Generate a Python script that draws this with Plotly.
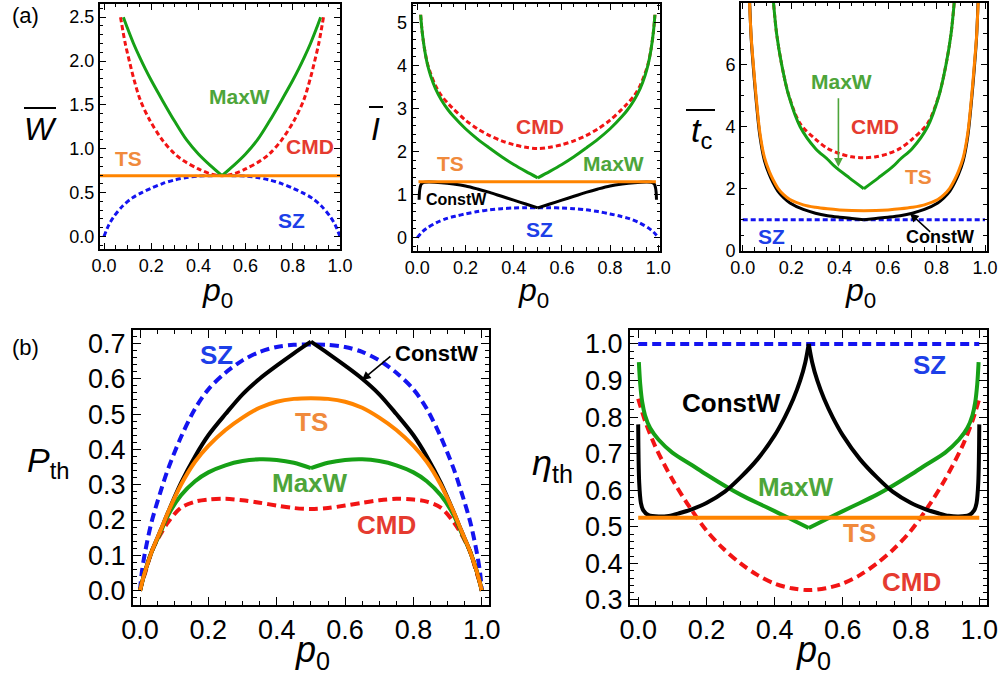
import plotly.graph_objects as go

# ================= DATA =================
# ---- (a) left panel: mean work W ----
sz_w_x = [0, 0.02, 0.04, 0.08, 0.12, 0.16, 0.2, 0.25, 0.3, 0.35, 0.4, 0.45, 0.5,
          0.55, 0.6, 0.65, 0.7, 0.75, 0.8, 0.84, 0.88, 0.92, 0.96, 0.98, 1.0]
sz_w_y = [0, 0.13, 0.22, 0.35, 0.44, 0.50, 0.55, 0.605, 0.645, 0.672, 0.688, 0.693, 0.695,
          0.693, 0.688, 0.672, 0.645, 0.605, 0.55, 0.50, 0.44, 0.35, 0.22, 0.13, 0]
ts_w_x = [-0.03, 1.03]
ts_w_y = [0.693, 0.693]
maxw_w_x = [0.082, 0.1, 0.125, 0.15, 0.175, 0.2, 0.25, 0.3, 0.35, 0.4, 0.45, 0.5,
            0.55, 0.6, 0.65, 0.7, 0.75, 0.8, 0.825, 0.85, 0.875, 0.9, 0.918]
maxw_w_y = [2.50, 2.37, 2.20, 2.05, 1.91, 1.78, 1.54, 1.31, 1.10, 0.94, 0.81, 0.693,
            0.81, 0.94, 1.10, 1.31, 1.54, 1.78, 1.91, 2.05, 2.20, 2.37, 2.50]
cmd_w_x = [0.07, 0.09, 0.11, 0.124, 0.153, 0.195, 0.25, 0.3, 0.336, 0.4, 0.45, 0.5,
           0.55, 0.6, 0.664, 0.7, 0.75, 0.805, 0.847, 0.876, 0.89, 0.91, 0.93]
cmd_w_y = [2.50, 2.20, 1.97, 1.82, 1.56, 1.32, 1.09, 0.94, 0.865, 0.77, 0.715, 0.693,
           0.715, 0.77, 0.865, 0.94, 1.09, 1.32, 1.56, 1.82, 1.97, 2.20, 2.50]

# ---- (a) middle panel: information I ----
sz_i_x = sz_w_x
sz_i_y = sz_w_y
ts_i_x = [0.005, 0.99]
ts_i_y = [1.30, 1.30]
maxw_i_x = [0.014, 0.02, 0.03, 0.042, 0.055, 0.075, 0.1, 0.129, 0.15, 0.2, 0.25, 0.3, 0.35, 0.4, 0.45, 0.5,
            0.55, 0.6, 0.65, 0.7, 0.75, 0.8, 0.85, 0.871, 0.9, 0.925, 0.945, 0.958, 0.97, 0.98, 0.986]
maxw_i_y = [5.18, 4.80, 4.38, 4.03, 3.77, 3.47, 3.20, 2.96, 2.82, 2.53, 2.29, 2.08, 1.88, 1.70, 1.54, 1.39,
            1.54, 1.70, 1.88, 2.08, 2.29, 2.53, 2.82, 2.96, 3.20, 3.47, 3.77, 4.03, 4.38, 4.80, 5.18]
cmd_i_x = maxw_i_x
cmd_i_y = [5.18, 4.80, 4.39, 4.05, 3.82, 3.54, 3.30, 3.11, 2.99, 2.73, 2.53, 2.37, 2.25, 2.16, 2.10, 2.07,
           2.10, 2.16, 2.25, 2.37, 2.53, 2.73, 2.99, 3.11, 3.30, 3.54, 3.82, 4.05, 4.39, 4.80, 5.18]
constw_i_x = [0.0075, 0.009, 0.012, 0.016, 0.022, 0.03, 0.05, 0.1, 0.15, 0.2, 0.25, 0.3, 0.35, 0.4, 0.45, 0.5,
              0.55, 0.6, 0.65, 0.7, 0.75, 0.8, 0.85, 0.9, 0.95, 0.97, 0.978, 0.984, 0.988, 0.991, 0.9925]
constw_i_y = [0.88, 1.05, 1.17, 1.24, 1.27, 1.285, 1.29, 1.275, 1.245, 1.20, 1.13, 1.05, 0.96, 0.87, 0.78, 0.69,
              0.78, 0.87, 0.96, 1.05, 1.13, 1.20, 1.245, 1.275, 1.29, 1.285, 1.27, 1.24, 1.17, 1.05, 0.88]

# ---- (a) right panel: cycle time t_c ----
sz_t_x = [0, 1.0]
sz_t_y = [1.0, 1.0]
ts_t_x = [0.026, 0.035, 0.044, 0.055, 0.071, 0.09, 0.11, 0.126, 0.145, 0.17, 0.195, 0.25, 0.3, 0.35, 0.4, 0.45, 0.5,
          0.55, 0.6, 0.65, 0.7, 0.75, 0.805, 0.83, 0.855, 0.874, 0.89, 0.91, 0.929, 0.945, 0.956, 0.965, 0.974]
ts_t_y = [8.4, 6.9, 6.0, 5.0, 3.8, 3.0, 2.55, 2.28, 2.02, 1.80, 1.65, 1.48, 1.40, 1.35, 1.315, 1.295, 1.29,
          1.295, 1.315, 1.35, 1.40, 1.48, 1.65, 1.80, 2.02, 2.28, 2.55, 3.0, 3.8, 5.0, 6.0, 6.9, 8.4]
constw_t_x = [0.027, 0.035, 0.044, 0.055, 0.071, 0.09, 0.11, 0.126, 0.145, 0.17, 0.195, 0.25, 0.3, 0.35, 0.4, 0.45, 0.5,
              0.55, 0.6, 0.65, 0.7, 0.75, 0.805, 0.83, 0.855, 0.874, 0.89, 0.91, 0.929, 0.945, 0.956, 0.965, 0.973]
constw_t_y = [8.4, 6.85, 5.9, 4.9, 3.7, 2.9, 2.45, 2.18, 1.92, 1.70, 1.54, 1.33, 1.21, 1.13, 1.08, 1.04, 1.0,
              1.04, 1.08, 1.13, 1.21, 1.33, 1.54, 1.70, 1.92, 2.18, 2.45, 2.9, 3.7, 4.9, 5.9, 6.85, 8.4]
maxw_t_x = [0.125, 0.14, 0.161, 0.19, 0.237, 0.3, 0.35, 0.381, 0.44, 0.5,
            0.56, 0.619, 0.65, 0.7, 0.763, 0.81, 0.839, 0.86, 0.875]
maxw_t_y = [8.2, 7.0, 6.0, 5.0, 4.0, 3.3, 2.95, 2.71, 2.35, 2.0,
            2.35, 2.71, 2.95, 3.3, 4.0, 5.0, 6.0, 7.0, 8.2]
cmd_t_x = [0.125, 0.14, 0.161, 0.19, 0.237, 0.3, 0.35, 0.4, 0.45, 0.5,
           0.55, 0.6, 0.65, 0.7, 0.763, 0.81, 0.839, 0.86, 0.875]
cmd_t_y = [8.2, 7.0, 6.0, 5.02, 4.1, 3.6, 3.3, 3.13, 3.03, 3.0,
           3.03, 3.13, 3.3, 3.6, 4.1, 5.02, 6.0, 7.0, 8.2]

# ---- (b) left panel: power P_th ----
p_x = [0, 0.005, 0.015, 0.034, 0.06, 0.083, 0.12, 0.161, 0.2, 0.25, 0.3, 0.35, 0.4, 0.45, 0.5,
       0.55, 0.6, 0.65, 0.7, 0.75, 0.8, 0.839, 0.88, 0.917, 0.94, 0.966, 0.985, 0.995, 1.0]
sz_p = [0, 0.05, 0.11, 0.195, 0.28, 0.347, 0.435, 0.515, 0.57, 0.617, 0.652, 0.676, 0.69, 0.696, 0.697,
        0.696, 0.69, 0.676, 0.652, 0.617, 0.57, 0.515, 0.435, 0.347, 0.28, 0.195, 0.11, 0.05, 0]
ts_p = [0, 0.02, 0.055, 0.11, 0.17, 0.224, 0.30, 0.365, 0.41, 0.455, 0.49, 0.518, 0.535, 0.543, 0.545,
        0.543, 0.535, 0.518, 0.49, 0.455, 0.41, 0.365, 0.30, 0.224, 0.17, 0.11, 0.055, 0.02, 0]
constw_p = [0, 0.02, 0.055, 0.11, 0.17, 0.224, 0.305, 0.38, 0.44, 0.50, 0.556, 0.60, 0.637, 0.672, 0.705,
            0.672, 0.637, 0.60, 0.556, 0.50, 0.44, 0.38, 0.305, 0.224, 0.17, 0.11, 0.055, 0.02, 0]
maxw_p = [0, 0.02, 0.055, 0.11, 0.165, 0.215, 0.27, 0.31, 0.335, 0.355, 0.367, 0.372, 0.37, 0.362, 0.347,
          0.362, 0.37, 0.372, 0.367, 0.355, 0.335, 0.31, 0.27, 0.215, 0.165, 0.11, 0.055, 0.02, 0]
cmd_p = [0, 0.02, 0.05, 0.11, 0.16, 0.195, 0.235, 0.252, 0.258, 0.26, 0.256, 0.249, 0.241, 0.234, 0.231,
         0.234, 0.241, 0.249, 0.256, 0.26, 0.258, 0.252, 0.235, 0.195, 0.16, 0.11, 0.05, 0.02, 0]

# ---- (b) right panel: efficiency eta_th ----
sz_eta_x = [0, 1.0]
sz_eta_y = [1.0, 1.0]
ts_eta_x = [0, 1.0]
ts_eta_y = [0.525, 0.525]
maxw_eta_x = [0.002, 0.006, 0.012, 0.02, 0.035, 0.06, 0.1, 0.157, 0.2, 0.265, 0.3, 0.35, 0.4, 0.45, 0.5,
              0.55, 0.6, 0.65, 0.7, 0.735, 0.8, 0.843, 0.9, 0.94, 0.965, 0.98, 0.988, 0.994, 0.998]
maxw_eta_y = [0.95, 0.89, 0.84, 0.805, 0.77, 0.738, 0.703, 0.669, 0.643, 0.606, 0.588, 0.565, 0.543, 0.52, 0.497,
              0.52, 0.543, 0.565, 0.588, 0.606, 0.643, 0.669, 0.703, 0.738, 0.77, 0.805, 0.84, 0.89, 0.95]
cmd_eta_x = [0, 0.02, 0.05, 0.1, 0.15, 0.2, 0.25, 0.3, 0.35, 0.4, 0.45, 0.5,
             0.55, 0.6, 0.65, 0.7, 0.75, 0.8, 0.85, 0.9, 0.95, 0.98, 1.0]
cmd_eta_y = [0.85, 0.79, 0.72, 0.63, 0.555, 0.49, 0.44, 0.40, 0.368, 0.345, 0.332, 0.327,
             0.332, 0.345, 0.368, 0.40, 0.44, 0.49, 0.555, 0.63, 0.72, 0.79, 0.85]
constw_eta_x = [0.0, 0.003, 0.008, 0.015, 0.03, 0.06, 0.09, 0.12, 0.157, 0.2, 0.254, 0.3, 0.35, 0.4, 0.43,
                0.455, 0.475, 0.49, 0.5, 0.51, 0.525, 0.545, 0.57, 0.6, 0.65, 0.7, 0.746, 0.8, 0.843,
                0.88, 0.91, 0.94, 0.97, 0.985, 0.992, 0.997, 1.0]
constw_eta_y = [0.78, 0.62, 0.565, 0.545, 0.532, 0.528, 0.53, 0.537, 0.548, 0.565, 0.596, 0.635, 0.685, 0.75, 0.80,
                0.85, 0.90, 0.95, 1.0, 0.95, 0.90, 0.85, 0.80, 0.75, 0.685, 0.635, 0.596, 0.565, 0.548,
                0.537, 0.53, 0.528, 0.532, 0.545, 0.565, 0.62, 0.78]

tick_x = [0.0, 0.2, 0.4, 0.6, 0.8, 1.0]

# ================= STYLE =================
GREEN, RED, BLUE, ORANGE, BLACK = "#16a016", "#f21414", "#1414f0", "#ff8400", "#000000"
L_GREEN, L_RED, L_BLUE, L_ORANGE = "#4da53a", "#e53b30", "#1d3fe8", "#f08a3c"
FONT = "Liberation Sans, Arial, sans-serif"

fig = go.Figure()


def ax_names(n):
    return ("x", "y") if n == 1 else (f"x{n}", f"y{n}")


def add_curve(n, x, y, color, width, dash=None, kink=None):
    xa, ya = ax_names(n)
    segs = [(x, y)]
    if kink is not None:
        i = x.index(kink)
        segs = [(x[:i + 1], y[:i + 1]), (x[i:], y[i:])]
    for sx, sy in segs:
        fig.add_trace(go.Scatter(
            x=sx, y=sy, xaxis=xa, yaxis=ya, mode="lines",
            line=dict(color=color, width=width, dash=dash, shape="spline", smoothing=0.9),
            showlegend=False, hoverinfo="skip"))


def label(n, x, y, text, color, size):
    xa, ya = ax_names(n)
    fig.add_annotation(x=x, y=y, xref=xa, yref=ya, text=f"<b>{text}</b>", showarrow=False,
                       font=dict(family=FONT, size=size, color=color))


def arrow(n, x, y, ax, ay, color):
    xa, ya = ax_names(n)
    fig.add_annotation(x=x, y=y, ax=ax, ay=ay, xref=xa, yref=ya, axref=xa, ayref=ya,
                       text="", showarrow=True, arrowhead=2, arrowsize=1.1, arrowwidth=1.6,
                       arrowcolor=color, standoff=0, startstandoff=0)


TW, BW = 3, 4
TD, BD = "5px,3px", "9px,5px"

# panel 1
add_curve(1, cmd_w_x, cmd_w_y, RED, TW, TD)
add_curve(1, sz_w_x, sz_w_y, BLUE, TW, TD)
add_curve(1, maxw_w_x, maxw_w_y, GREEN, TW, kink=0.5)
add_curve(1, ts_w_x, ts_w_y, ORANGE, TW)
# panel 2
add_curve(2, cmd_i_x, cmd_i_y, RED, TW, TD)
add_curve(2, sz_i_x, sz_i_y, BLUE, TW, TD)
add_curve(2, maxw_i_x, maxw_i_y, GREEN, TW, kink=0.5)
add_curve(2, constw_i_x, constw_i_y, BLACK, TW, kink=0.5)
add_curve(2, ts_i_x, ts_i_y, ORANGE, TW)
# panel 3
add_curve(3, cmd_t_x, cmd_t_y, RED, TW, TD)
add_curve(3, sz_t_x, sz_t_y, BLUE, TW, TD)
add_curve(3, maxw_t_x, maxw_t_y, GREEN, TW, kink=0.5)
add_curve(3, constw_t_x, constw_t_y, BLACK, TW, kink=0.5)
add_curve(3, ts_t_x, ts_t_y, ORANGE, TW)
# panel 4
add_curve(4, p_x, cmd_p, RED, BW, BD)
add_curve(4, p_x, sz_p, BLUE, BW, BD)
add_curve(4, p_x, maxw_p, GREEN, BW, kink=0.5)
add_curve(4, p_x, constw_p, BLACK, BW, kink=0.5)
add_curve(4, p_x, ts_p, ORANGE, BW)
# panel 5
add_curve(5, cmd_eta_x, cmd_eta_y, RED, BW, BD)
add_curve(5, sz_eta_x, sz_eta_y, BLUE, BW, BD)
add_curve(5, maxw_eta_x, maxw_eta_y, GREEN, BW, kink=0.5)
add_curve(5, constw_eta_x, constw_eta_y, BLACK, BW, kink=0.5)
add_curve(5, ts_eta_x, ts_eta_y, ORANGE, BW)

# in-plot labels
label(1, 0.576, 1.59, "MaxW", L_GREEN, 21)
label(1, 0.873, 1.02, "CMD", L_RED, 21)
label(1, 0.103, 0.886, "TS", L_ORANGE, 21)
label(1, 0.795, 0.18, "SZ", L_BLUE, 21)

label(2, 0.509, 2.58, "CMD", L_RED, 21)
label(2, 0.136, 1.73, "TS", L_ORANGE, 21)
label(2, 0.813, 1.73, "MaxW", L_GREEN, 21)
label(2, 0.163, 0.877, "ConstW", BLACK, 16)
label(2, 0.509, 0.18, "SZ", L_BLUE, 21)

label(3, 0.408, 5.45, "MaxW", L_GREEN, 21)
label(3, 0.546, 4.0, "CMD", L_RED, 21)
label(3, 0.725, 2.39, "TS", L_ORANGE, 21)
label(3, 0.12, 0.45, "SZ", L_BLUE, 21)
label(3, 0.814, 0.45, "ConstW", BLACK, 18)
arrow(3, 0.395, 2.71, 0.395, 4.97, L_GREEN)
arrow(3, 0.69, 1.21, 0.78, 0.56, BLACK)

label(4, 0.224, 0.667, "SZ", L_BLUE, 26)
label(4, 0.868, 0.672, "ConstW", BLACK, 22)
label(4, 0.502, 0.478, "TS", L_ORANGE, 26)
label(4, 0.498, 0.304, "MaxW", L_GREEN, 26)
label(4, 0.722, 0.186, "CMD", L_RED, 26)
arrow(4, 0.649, 0.596, 0.737, 0.667, BLACK)

label(5, 0.855, 0.943, "SZ", L_BLUE, 26)
label(5, 0.274, 0.838, "ConstW", BLACK, 26)
label(5, 0.464, 0.61, "MaxW", L_GREEN, 26)
label(5, 0.65, 0.482, "TS", L_ORANGE, 26)
label(5, 0.80, 0.35, "CMD", L_RED, 26)


# axes
def axis_style(rng, dtick, minor, size, fmt, ticklen, vals=None):
    d = dict(range=rng, showgrid=False, zeroline=False, showline=True, linecolor="black",
             linewidth=2, mirror="ticks", ticks="inside", ticklen=ticklen, tickwidth=1.3,
             tickcolor="black", tickfont=dict(family=FONT, size=size, color="black"),
             minor=dict(ticks="inside", ticklen=ticklen * 0.55, tickwidth=1, tickcolor="black", dtick=minor),
             fixedrange=True, automargin=False)
    if vals is not None:
        d.update(tickmode="array", tickvals=vals, ticktext=[f"{v:.1f}" for v in vals])
    else:
        d.update(dtick=dtick, tickformat=fmt, tick0=0)
    return d


def px2paper_x(a, b):
    return [a / 1000, b / 1000]


def px2paper_y(top, bottom):
    return [1 - bottom / 675, 1 - top / 675]


TOPF, BOTF = 18, 27
layout = dict(
    width=1000, height=675, margin=dict(l=0, r=0, t=0, b=0, autoexpand=False),
    paper_bgcolor="white", plot_bgcolor="white", showlegend=False,
    xaxis=dict(domain=px2paper_x(100, 340), anchor="y", **axis_style([-0.017, 1.0], None, 0.05, TOPF, None, 6, tick_x)),
    yaxis=dict(domain=px2paper_y(4, 248.5), anchor="x", **axis_style([-0.137, 2.65], 0.5, 0.1, TOPF, ".1f", 6)),
    xaxis2=dict(domain=px2paper_x(412.7, 660), anchor="y2", **axis_style([-0.019, 1.007], None, 0.05, TOPF, None, 6, tick_x)),
    yaxis2=dict(domain=px2paper_y(4, 250.5), anchor="x2", **axis_style([-0.30, 5.43], 1, 0.2, TOPF, "d", 6)),
    xaxis3=dict(domain=px2paper_x(741, 986.7), anchor="y3", **axis_style([-0.007, 1.007], None, 0.05, TOPF, None, 6, tick_x)),
    yaxis3=dict(domain=px2paper_y(2.7, 250.7), anchor="x3", **axis_style([0, 8.0], 2, 0.5, TOPF, "d", 6)),
    xaxis4=dict(domain=px2paper_x(133, 489), anchor="y4", **axis_style([-0.0205, 1.021], None, 0.05, BOTF, None, 8, tick_x)),
    yaxis4=dict(domain=px2paper_y(330, 605), anchor="x4", **axis_style([-0.0405, 0.738], 0.1, 0.02, BOTF, ".1f", 8)),
    xaxis5=dict(domain=px2paper_x(630, 987), anchor="y5", **axis_style([-0.024, 1.0226], None, 0.05, BOTF, None, 8, tick_x)),
    yaxis5=dict(domain=px2paper_y(330, 605), anchor="x5", **axis_style([0.2863, 1.038], 0.1, 0.02, BOTF, ".1f", 8)),
)
fig.update_layout(**layout)


def paper_text(xpx, ypx, text, size):
    fig.add_annotation(x=xpx / 1000, y=1 - ypx / 675, xref="paper", yref="paper", text=text,
                       showarrow=False, font=dict(family=FONT, size=size, color="black"),
                       xanchor="center", yanchor="middle")


def overline(x0, x1, ypx):
    fig.add_shape(type="line", xref="paper", yref="paper", x0=x0 / 1000, x1=x1 / 1000,
                  y0=1 - ypx / 675, y1=1 - ypx / 675, line=dict(color="black", width=2))


# panel tags
paper_text(25, 15, "(a)", 22)
paper_text(25, 347, "(b)", 22)

# axis titles
paper_text(40, 129, "<i>W</i>", 32)
overline(24, 56, 108)
paper_text(375, 129, "<i>I</i>", 32)
overline(369, 383, 107)
paper_text(701, 133, "<i>t</i><sub>c</sub>", 34)
overline(686, 715, 110)
paper_text(48, 462, "<i>P</i><sub>th</sub>", 34)
paper_text(552, 465, "<i>η</i><sub>th</sub>", 36)

for xc in (217, 533, 860):
    paper_text(xc, 292, "<i>p</i><sub>0</sub>", 32)
for xc in (312, 813):
    paper_text(xc, 652, "<i>p</i><sub>0</sub>", 36)

fig.write_html("out.html", config={"displayModeBar": False},
               post_script="document.body.style.margin='0';document.body.style.overflow='hidden';")
